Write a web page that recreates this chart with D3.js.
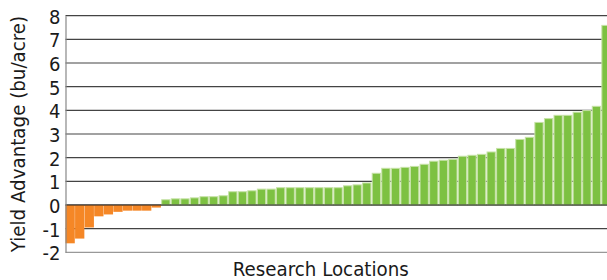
<!DOCTYPE html>
<html>
<head>
<meta charset="utf-8">
<script src="https://cdn.jsdelivr.net/npm/d3@7"></script>
<style>
  body { margin: 0; background: #fff; }
  svg { display: block; overflow: hidden; }
  text { font-family: "DejaVu Sans Condensed", "DejaVu Sans", sans-serif; fill: #1a1a1a; }
</style>
</head>
<body>
<svg id="chart" width="607" height="280"></svg>
<script>
// --- DATA ---
// yield advantage per research location, sorted ascending (bu/acre)
const yieldAdvantage = [
  -1.62, -1.42, -0.95, -0.48, -0.40, -0.29, -0.24, -0.24, -0.24, -0.11,
  0.22, 0.26, 0.26, 0.30, 0.35, 0.35, 0.39, 0.56, 0.56, 0.60,
  0.67, 0.67, 0.73, 0.73, 0.73, 0.73, 0.73, 0.73, 0.73, 0.81,
  0.85, 0.93, 1.34, 1.55, 1.55, 1.59, 1.63, 1.72, 1.85, 1.89,
  1.93, 2.06, 2.10, 2.14, 2.24, 2.39, 2.39, 2.77, 2.86, 3.49,
  3.65, 3.79, 3.79, 3.92, 3.99, 4.17, 7.59
];
const locations = yieldAdvantage.map((v, i) => "Location " + (i + 1));
const yTicks = [-2, -1, 0, 1, 2, 3, 4, 5, 6, 7, 8];

// --- CONFIGURATION ---
const LEFT = 65.5;
const STEP = 9.564;
const TOP = 15.7;
const BOTTOM = 252.3;
const POS_COLOR = "#7dc142";
const POS_EDGE = "#c6e2a6";
const NEG_COLOR = "#f58726";

const svg = d3.select("#chart");

const x = d3.scaleBand()
  .domain(locations)
  .range([LEFT, LEFT + STEP * locations.length])
  .paddingInner(0.03)
  .paddingOuter(0);

const y = d3.scaleLinear().domain([-2, 8]).range([BOTTOM, TOP]);

// gridlines
svg.append("g").selectAll("line").data(yTicks).join("line")
  .attr("x1", LEFT).attr("x2", 607)
  .attr("y1", d => y(d)).attr("y2", d => y(d))
  .attr("stroke", d => d === -2 ? "#999" : "#444")
  .attr("stroke-width", 1.2);

// bars
const bw = x.bandwidth();
svg.append("g").selectAll("rect").data(yieldAdvantage).join("rect")
  .attr("x", (d, i) => d >= 0 ? x(locations[i]) + 0.5 : x(locations[i]))
  .attr("width", d => d >= 0 ? bw - 1 : bw)
  .attr("y", d => d >= 0 ? y(d) : y(0))
  .attr("height", d => Math.abs(y(d) - y(0)))
  .attr("fill", d => d >= 0 ? POS_COLOR : NEG_COLOR)
  .attr("stroke", d => d >= 0 ? POS_EDGE : "none")
  .attr("stroke-width", 1);

// zero line on top of bars
svg.append("line")
  .attr("x1", LEFT).attr("x2", 607)
  .attr("y1", y(0)).attr("y2", y(0))
  .attr("stroke", "#222").attr("stroke-width", 1.2);

// left axis
const yAxis = d3.axisLeft(y).tickValues(yTicks).tickSize(0).tickPadding(5)
  .tickFormat(d => String(d));
const ax = svg.append("g").attr("transform", `translate(${LEFT},0)`).call(yAxis);
ax.select(".domain").attr("stroke", "#888").attr("stroke-width", 1.2);
ax.selectAll(".tick text")
  .attr("font-size", 20)
  .attr("font-family", "DejaVu Sans, sans-serif")
  .attr("fill", "#1a1a1a")
  .attr("dy", "0.38em");

// axis titles
svg.append("text")
  .attr("transform", `translate(25,134) rotate(-90)`)
  .attr("text-anchor", "middle")
  .attr("font-size", 20.3)
  .text("Yield Advantage (bu/acre)");

svg.append("text")
  .attr("x", 320.8).attr("y", 276)
  .attr("text-anchor", "middle")
  .attr("font-size", 20.3)
  .text("Research Locations");
</script>
</body>
</html>
